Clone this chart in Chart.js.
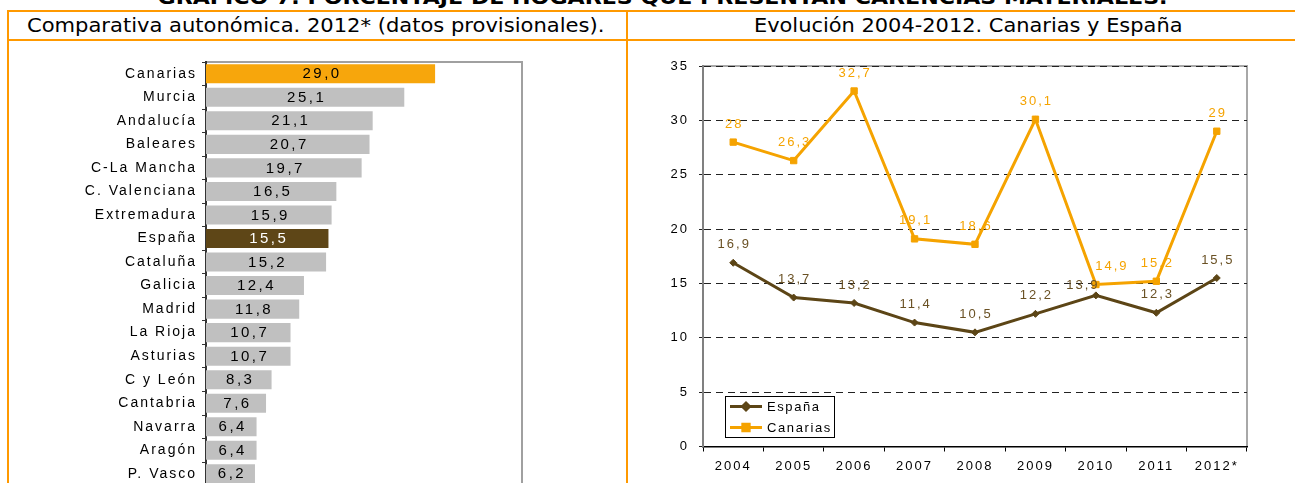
<!DOCTYPE html>
<html><head><meta charset="utf-8">
<script src="https://cdn.jsdelivr.net/npm/chart.js@4.4.1/dist/chart.umd.min.js"></script>
<style>
html,body{margin:0;padding:0;width:1295px;height:483px;overflow:hidden;background:#fff;position:relative}
.hl{position:absolute;background:#FF9900;height:2px}
.vl{position:absolute;background:#FF9900;width:2px}
.txt{position:absolute;white-space:nowrap;transform-origin:center center;color:#000}
canvas{position:absolute}
</style></head><body>
<div id="title" class="txt" style="font:bold 20px 'DejaVu Sans';line-height:20px;top:-13px;">GRÁFICO 7. PORCENTAJE DE HOGARES QUE PRESENTAN CARENCIAS MATERIALES.</div>
<div class="hl" style="left:7px;top:10px;width:1288px"></div>
<div class="hl" style="left:7px;top:39px;width:1288px"></div>
<div class="vl" style="left:7px;top:10px;height:473px"></div>
<div class="vl" style="left:626px;top:10px;height:473px"></div>
<div id="h1" class="txt" style="font:20px 'DejaVu Sans Condensed';line-height:20px;top:15px;">Comparativa autonómica. 2012* (datos provisionales).</div>
<div id="h2" class="txt" style="font:20px 'DejaVu Sans Condensed';line-height:20px;top:15px;">Evolución 2004-2012. Canarias y España</div>
<canvas id="bar" width="560" height="457" style="left:0;top:42px"></canvas>
<canvas id="line" width="665" height="441" style="left:630px;top:42px"></canvas>
<script>
// ---------- data ----------
const regions = ['Canarias','Murcia','Andalucía','Baleares','C-La Mancha','C. Valenciana','Extremadura','España','Cataluña','Galicia','Madrid','La Rioja','Asturias','C y León','Cantabria','Navarra','Aragón','P. Vasco'];
const rate2012 = [29.0,25.1,21.1,20.7,19.7,16.5,15.9,15.5,15.2,12.4,11.8,10.7,10.7,8.3,7.6,6.4,6.4,6.2];
const years = ['2004','2005','2006','2007','2008','2009','2010','2011','2012*'];
const espana = [16.9,13.7,13.2,11.4,10.5,12.2,13.9,12.3,15.5];
const canarias = [28,26.3,32.7,19.1,18.6,30.1,14.9,15.2,29];
const yTicksMax = 35, yStep = 5, barAxisMax = 40;

// ---------- styles ----------
const ORANGE = '#F7A60C', BROWN = '#5E4617', GRAY = '#C0C0C0';
const LINE_ORANGE = '#F5A300', LINE_BROWN = '#5C4516';
const FONT = "'Liberation Sans', Arial, sans-serif";

function fit(id, cx, w){
  const el = document.getElementById(id);
  const nw = el.offsetWidth;
  el.style.left = (cx - nw/2) + 'px';
  el.style.transform = 'scaleX(' + (w/nw) + ')';
}
fit('title', 662, 1010);
fit('h1', 315.5, 577);
fit('h2', 968, 428);

const spacing = px => ({id:'spacing', beforeDraw(chart){ chart.ctx.letterSpacing = px; }});

// ---------- bar chart ----------
const barLabels = {id:'barLabels', afterDatasetsDraw(chart){
  const ctx = chart.ctx; ctx.save();
  ctx.font = '15px ' + FONT; ctx.textAlign='center'; ctx.textBaseline='middle'; ctx.letterSpacing='2.5px';
  chart.getDatasetMeta(0).data.forEach((b,i)=>{
    ctx.fillStyle = regions[i]==='España' ? '#FFFFFF' : '#000000';
    ctx.fillText(rate2012[i].toFixed(1).replace('.',','), (b.x+b.base)/2 + 1.5, b.y+0.5);
  });
  ctx.restore();
}};
const barBorder = {id:'barBorder', beforeDraw(chart){
  const {ctx, chartArea:a} = chart; ctx.save();
  ctx.strokeStyle='#A0A0A0'; ctx.lineWidth=2;
  ctx.beginPath(); ctx.moveTo(a.left, a.top); ctx.lineTo(a.right, a.top); ctx.lineTo(a.right, a.bottom+5); ctx.stroke();
  ctx.restore();
}};
new Chart(document.getElementById('bar'), {
  type:'bar',
  data:{labels:regions, datasets:[{data:rate2012,
    backgroundColor: regions.map(r => r==='Canarias' ? ORANGE : r==='España' ? BROWN : GRAY),
    barPercentage:0.81, categoryPercentage:1}]},
  options:{indexAxis:'y', responsive:false, animation:false,
    layout:{padding:{top:20,bottom:0,right:38,left:0}},
    plugins:{legend:{display:false}, tooltip:{enabled:false}},
    scales:{
      x:{display:false, min:0, max:barAxisMax},
      y:{afterFit(s){ s.width = 206; },
         grid:{drawOnChartArea:false, drawTicks:true, tickLength:4, color:'#333', offset:true},
         border:{display:true, color:'#333', width:2},
         ticks:{color:'#000', font:{family:FONT, size:14}, padding:5, autoSkip:false}}
    }},
  plugins:[spacing('2px'), barBorder, barLabels]
});

// ---------- line chart ----------
const labelNudge = {'España':{6:[-14,8]}, 'Canarias':{6:[15,0]}};
const fmt = v => String(v).replace('.',',');
const lineLabels = {id:'lineLabels', afterDatasetsDraw(chart){
  const ctx = chart.ctx; ctx.save();
  ctx.font = '13px ' + FONT; ctx.textAlign='center'; ctx.textBaseline='middle'; ctx.letterSpacing='2px';
  chart.data.datasets.forEach((ds,i)=>{
    chart.getDatasetMeta(i).data.forEach((pt,j)=>{
      const n = (labelNudge[ds.label]||{})[j] || [0,0];
      ctx.fillStyle = ds.labelColor;
      ctx.fillText(fmt(ds.data[j]), pt.x + 1 + n[0], pt.y - 18 + n[1]);
    });
  });
  ctx.restore();
}};
const lineBorder = {id:'lineBorder', beforeDraw(chart){
  const {ctx, chartArea:a} = chart; ctx.save();
  ctx.strokeStyle='#A8A8A8'; ctx.lineWidth=2;
  ctx.beginPath(); ctx.moveTo(a.left, a.top); ctx.lineTo(a.right, a.top); ctx.lineTo(a.right, a.bottom); ctx.stroke();
  ctx.restore();
}};
const lineLegend = {id:'lineLegend', afterDraw(chart){
  const {ctx, chartArea:a} = chart; ctx.save();
  const x0 = a.left + 22, y0 = a.bottom - 50.5, w = 109, h = 41;
  ctx.fillStyle='#fff'; ctx.fillRect(x0,y0,w,h);
  ctx.strokeStyle='#000'; ctx.lineWidth=1; ctx.strokeRect(x0+0.5,y0+0.5,w,h);
  ctx.font='13px ' + FONT; ctx.textBaseline='middle'; ctx.textAlign='left'; ctx.letterSpacing='1.6px';
  chart.data.datasets.forEach((ds,i)=>{
    const y = y0 + 10.5 + i*21;
    ctx.strokeStyle = ds.borderColor; ctx.lineWidth = 3;
    ctx.beginPath(); ctx.moveTo(x0+5, y); ctx.lineTo(x0+37, y); ctx.stroke();
    ctx.fillStyle = ds.borderColor;
    Chart.helpers.drawPoint(ctx, {pointStyle: ds.pointStyle, rotation:0, borderWidth:1, radius: ds.pointRadius}, x0+21, y);
    ctx.fill();
    ctx.fillStyle = '#000';
    ctx.fillText(ds.label, x0+42, y+0.5);
  });
  ctx.restore();
}};
new Chart(document.getElementById('line'), {
  type:'line',
  data:{labels:years, datasets:[
    {label:'España', data:espana, borderColor:LINE_BROWN, backgroundColor:LINE_BROWN, labelColor:'#6A5124',
     borderWidth:3, pointStyle:'rectRot', pointRadius:3.5, pointBorderWidth:1, tension:0},
    {label:'Canarias', data:canarias, borderColor:LINE_ORANGE, backgroundColor:LINE_ORANGE, labelColor:'#F5A300',
     borderWidth:3, pointStyle:'rect', pointRadius:4.5, pointBorderWidth:1, tension:0}
  ]},
  options:{responsive:false, animation:false,
    layout:{padding:{top:24,right:48,left:0,bottom:0}},
    plugins:{legend:{display:false}, tooltip:{enabled:false}},
    scales:{
      x:{type:'category', offset:true, afterFit(s){ s.height = 36.5; },
         grid:{offset:true, drawOnChartArea:false, drawTicks:true, tickLength:5, color:'#000'},
         border:{display:true, color:'#000', width:1.5},
         ticks:{color:'#000', font:{family:FONT, size:13}, padding:7, maxRotation:0, autoSkip:false}},
      y:{min:0, max:yTicksMax, afterFit(s){ s.width = 73; },
         grid:{color:'#222', lineWidth:1, drawTicks:true, tickLength:4},
         border:{display:true, color:'#808080', width:2, dash:[7,5]},
         ticks:{stepSize:yStep, color:'#000', font:{family:FONT, size:13}, padding:10}}
    }},
  plugins:[spacing('2px'), lineBorder, lineLabels, lineLegend]
});
</script>
</body></html>
